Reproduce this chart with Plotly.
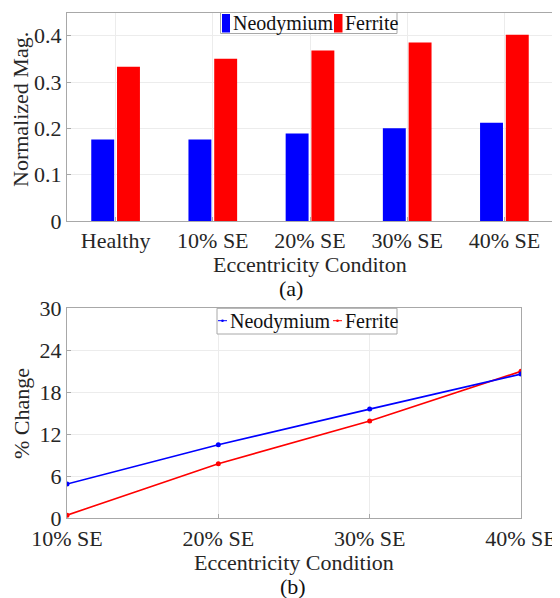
import plotly.graph_objects as go

# ---- data ----
categories_a = ["Healthy", "10% SE", "20% SE", "30% SE", "40% SE"]
neodymium_mag = [0.176, 0.176, 0.189, 0.200, 0.212]
ferrite_mag = [0.333, 0.350, 0.368, 0.385, 0.402]

categories_b = ["10% SE", "20% SE", "30% SE", "40% SE"]
neodymium_change = [4.9, 10.5, 15.6, 20.6]
ferrite_change = [0.45, 7.8, 13.9, 21.0]

series_names = ["Neodymium", "Ferrite"]
y_ticks_a = [0, 0.1, 0.2, 0.3, 0.4]
y_ticks_b = [0, 6, 12, 18, 24, 30]

# page body has an 8px margin, so the figure is sized to fit the window
OFF = 8
W, H = 560 - OFF, 598 - OFF
FONT = "'Times New Roman', 'Liberation Serif', Times, serif"
BLUE = "#0000ff"
RED = "#ff0000"
TXT = "#262626"
FRAME = "#a8a8a8"
GRID = "#ececec"


def px(x):
    return (x - OFF) / W


def py(y):
    return 1 - (y - OFF) / H


fig = go.Figure()

fig.add_trace(go.Bar(x=categories_a, y=neodymium_mag, name=series_names[0],
                     marker=dict(color=BLUE, line=dict(width=0)),
                     xaxis="x", yaxis="y", showlegend=False))
fig.add_trace(go.Bar(x=categories_a, y=ferrite_mag, name=series_names[1],
                     marker=dict(color=RED, line=dict(width=0)),
                     xaxis="x", yaxis="y", showlegend=False))

fig.add_trace(go.Scatter(x=categories_b, y=ferrite_change, name=series_names[1],
                         mode="lines+markers", line=dict(color=RED, width=1.6),
                         marker=dict(color=RED, size=5),
                         xaxis="x2", yaxis="y2", showlegend=False))
fig.add_trace(go.Scatter(x=categories_b, y=neodymium_change, name=series_names[0],
                         mode="lines+markers", line=dict(color=BLUE, width=1.6),
                         marker=dict(color=BLUE, size=5),
                         xaxis="x2", yaxis="y2", showlegend=False))

axis_common = dict(showline=True, linecolor=FRAME, linewidth=1, mirror=True,
                   showgrid=True, gridcolor=GRID, gridwidth=1,
                   ticks="inside", ticklen=4, tickcolor=FRAME,
                   tickfont=dict(family=FONT, size=22, color=TXT),
                   zeroline=False, fixedrange=True, automargin=False)

fig.update_layout(
    width=W, height=H,
    margin=dict(l=0, r=0, t=0, b=0, pad=0, autoexpand=False),
    paper_bgcolor="white", plot_bgcolor="white",
    barmode="group", bargap=0.47, bargroupgap=0.11,
    font=dict(family=FONT, color=TXT),
    xaxis=dict(domain=[px(67), px(553)], anchor="y", type="category",
               range=[-0.5, 4.5], **axis_common),
    yaxis=dict(domain=[py(221), py(12.5)], anchor="x",
               range=[0, 0.45], tickvals=y_ticks_a, **axis_common),
    xaxis2=dict(domain=[px(67), px(521)], anchor="y2", type="category",
                range=[0, 3], **axis_common),
    yaxis2=dict(domain=[py(518.3), py(308.3)], anchor="x2",
                range=[0, 30], tickvals=y_ticks_b, **axis_common),
)


def text(t, x, y, size=22, color=TXT, angle=0, xanchor="center"):
    return dict(text=t, x=px(x), y=py(y), xref="paper", yref="paper",
                xanchor=xanchor, yanchor="middle", textangle=angle,
                showarrow=False, font=dict(family=FONT, size=size, color=color))


ann = [
    text("Eccentricity Conditon", 310, 264),
    text("(a)", 291, 289, color="#111"),
    text("Normalized Mag.", 21, 110, angle=-90),
    text("Eccentricity Condition", 294, 562),
    text("(b)", 293, 586, color="#111"),
    text("% Change", 21, 414, angle=-90),
]

shapes = []
# legend (a)
shapes.append(dict(type="rect", xref="paper", yref="paper", x0=px(220.5), x1=px(397),
                   y0=py(33.5), y1=py(12.5), line=dict(color=FRAME, width=1), fillcolor="white"))
shapes.append(dict(type="rect", xref="paper", yref="paper", x0=px(222), x1=px(230),
                   y0=py(32.5), y1=py(14), line=dict(width=0), fillcolor=BLUE))
shapes.append(dict(type="rect", xref="paper", yref="paper", x0=px(334), x1=px(342.5),
                   y0=py(32.5), y1=py(14), line=dict(width=0), fillcolor=RED))
ann.append(text(series_names[0], 231, 23.5, size=20, color="#111", xanchor="left"))
ann.append(text(series_names[1], 343, 23.5, size=20, color="#111", xanchor="left"))

# legend (b)
shapes.append(dict(type="rect", xref="paper", yref="paper", x0=px(217), x1=px(397),
                   y0=py(334), y1=py(308.3), line=dict(color=FRAME, width=1), fillcolor="white"))
shapes.append(dict(type="line", xref="paper", yref="paper", x0=px(218), x1=px(227),
                   y0=py(320.7), y1=py(320.7), line=dict(color=BLUE, width=1)))
shapes.append(dict(type="circle", xref="paper", yref="paper", x0=px(221.2), x1=px(223.8),
                   y0=py(322), y1=py(319.4), line=dict(width=0), fillcolor=BLUE))
shapes.append(dict(type="line", xref="paper", yref="paper", x0=px(333), x1=px(342),
                   y0=py(320.7), y1=py(320.7), line=dict(color=RED, width=1)))
shapes.append(dict(type="circle", xref="paper", yref="paper", x0=px(336.2), x1=px(338.8),
                   y0=py(322), y1=py(319.4), line=dict(width=0), fillcolor=RED))
ann.append(text(series_names[0], 228, 321, size=20, color="#111", xanchor="left"))
ann.append(text(series_names[1], 343, 321, size=20, color="#111", xanchor="left"))

fig.update_layout(annotations=ann, shapes=shapes)

fig.write_html("out.html")
